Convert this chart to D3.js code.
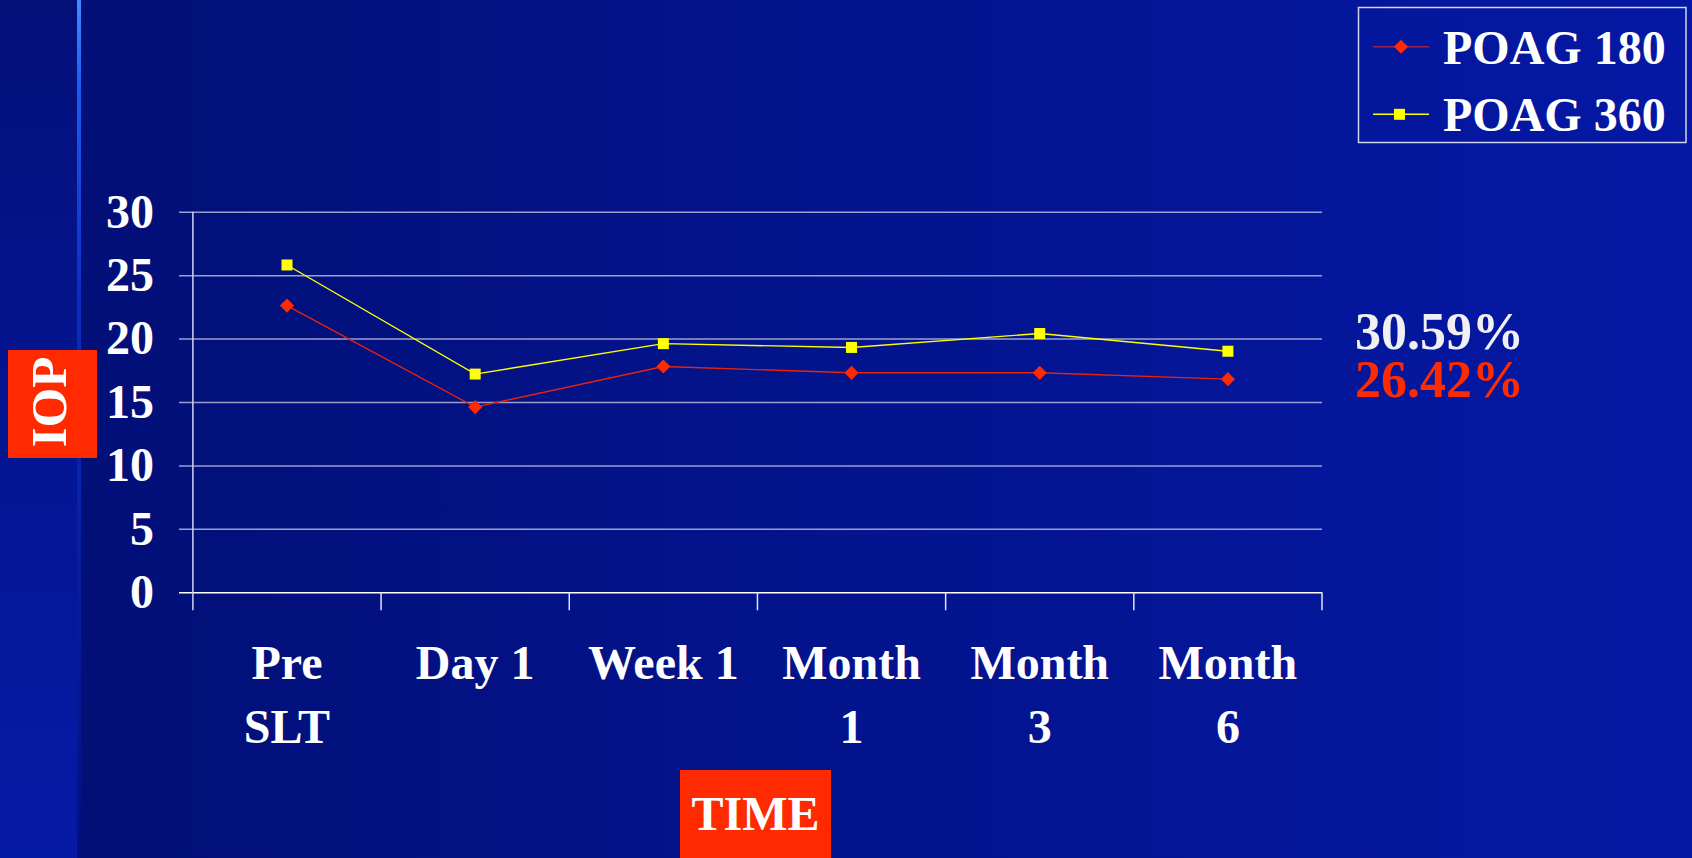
<!DOCTYPE html>
<html>
<head>
<meta charset="utf-8">
<script src="https://cdn.jsdelivr.net/npm/d3@7"></script>
<style>
  html, body { margin: 0; padding: 0; background: #03107a; overflow: hidden; }
  svg { display: block; }
  text { font-family: "Liberation Serif", "Times New Roman", serif; font-weight: bold; }
</style>
</head>
<body>
<div id="chart"></div>
<script>
// data
const categories = ["Pre SLT", "Day 1", "Week 1", "Month 1", "Month 3", "Month 6"];
const categoryLines = [["Pre", "SLT"], ["Day 1"], ["Week 1"], ["Month", "1"], ["Month", "3"], ["Month", "6"]];
const poag180 = [22.6, 14.6, 17.8, 17.3, 17.3, 16.8];
const poag360 = [25.8, 17.2, 19.6, 19.3, 20.4, 19.0];
const yTicks = [0, 5, 10, 15, 20, 25, 30];
const seriesNames = ["POAG 180", "POAG 360"];
const reductions = ["30.59%", "26.42%"];

const W = 1692, H = 858;
const red = "#ff2a00";

const svg = d3.select("#chart").append("svg")
  .attr("width", W)
  .attr("height", H);

// background
const defs = svg.append("defs");
const bgGrad = defs.append("linearGradient").attr("id", "bg").attr("x1", 0).attr("x2", 1).attr("y1", 0).attr("y2", 0);
bgGrad.append("stop").attr("offset", 0).attr("stop-color", "#020f75");
bgGrad.append("stop").attr("offset", 1).attr("stop-color", "#0518a4");
const stripGrad = defs.append("linearGradient").attr("id", "strip").attr("x1", 0).attr("x2", 0).attr("y1", 0).attr("y2", 1);
stripGrad.append("stop").attr("offset", 0).attr("stop-color", "#03107a");
stripGrad.append("stop").attr("offset", 1).attr("stop-color", "#061aa8");
const glowGrad = defs.append("linearGradient").attr("id", "glow").attr("x1", 0).attr("x2", 0).attr("y1", 0).attr("y2", 1);
glowGrad.append("stop").attr("offset", 0).attr("stop-color", "#3a90ff");
glowGrad.append("stop").attr("offset", 0.1).attr("stop-color", "#1c5cf0");
glowGrad.append("stop").attr("offset", 0.35).attr("stop-color", "#0a2cc0");
glowGrad.append("stop").attr("offset", 1).attr("stop-color", "#030f80");

svg.append("rect").attr("width", W).attr("height", H).attr("fill", "url(#bg)");
svg.append("rect").attr("width", 78).attr("height", H).attr("fill", "url(#strip)");
svg.append("rect").attr("x", 77).attr("width", 4).attr("height", H).attr("fill", "url(#glow)");

// layout
const plot = { left: 192.9, right: 1322, top: 211.7, bottom: 592.3 };

// scales
const x = d3.scaleBand()
  .domain(categories)
  .range([plot.left, plot.right]);
const y = d3.scaleLinear()
  .domain([0, 30])
  .range([plot.bottom, plot.top]);

// y axis: gridlines + labels
const gAxisY = svg.append("g")
  .attr("transform", `translate(179, 0)`)
  .call(d3.axisLeft(y).tickValues(yTicks).tickSizeInner(-(plot.right - 179)).tickSizeOuter(0).tickPadding(25));
gAxisY.select(".domain").remove();
gAxisY.selectAll(".tick line")
  .attr("stroke", "#ffffff")
  .attr("stroke-opacity", d => d === 0 ? 1 : 0.6)
  .attr("stroke-width", 1.5);
gAxisY.selectAll(".tick text")
  .attr("fill", "#ffffff")
  .attr("font-size", 48)
  .attr("font-family", "Liberation Serif, Times New Roman, serif")
  .attr("font-weight", "bold");

// vertical axis line
svg.append("line")
  .attr("x1", plot.left).attr("x2", plot.left)
  .attr("y1", plot.top).attr("y2", plot.bottom + 18)
  .attr("stroke", "#d0d4f0").attr("stroke-width", 1.5);

// x ticks at band boundaries
const boundaries = categories.map(c => x(c)).concat([x.range()[1]]).slice(1);
svg.append("g").selectAll("line")
  .data(boundaries)
  .join("line")
  .attr("x1", d => d).attr("x2", d => d)
  .attr("y1", plot.bottom).attr("y2", plot.bottom + 18)
  .attr("stroke", "#e0e4f8").attr("stroke-width", 1.5);

// x labels
const labels = svg.append("g").selectAll("text")
  .data(categories)
  .join("text")
  .attr("x", d => x(d) + x.bandwidth() / 2)
  .attr("y", 679)
  .attr("text-anchor", "middle")
  .attr("font-size", 48)
  .attr("fill", "#ffffff");
labels.selectAll("tspan")
  .data((d, i) => categoryLines[i])
  .join("tspan")
  .attr("x", function () { return this.parentNode.getAttribute("x"); })
  .attr("dy", (d, i) => i === 0 ? 0 : 64)
  .text(d => d);

// lines + markers
const series = [
  { name: seriesNames[0], values: poag180, line: "#e8220c", marker: red, shape: "diamond" },
  { name: seriesNames[1], values: poag360, line: "#ffff00", marker: "#ffff00", shape: "square" }
];
const lineGen = d3.line()
  .x((d, i) => x(categories[i]) + x.bandwidth() / 2)
  .y(d => y(d));
const symDiamond = d3.symbol().type(d3.symbolSquare).size(100);
const symSquare = d3.symbol().type(d3.symbolSquare).size(121);

const gMarks = svg.append("g");
series.forEach(s => {
  gMarks.append("path")
    .attr("d", lineGen(s.values))
    .attr("fill", "none")
    .attr("stroke", s.line)
    .attr("stroke-width", 1.4);
  gMarks.append("g").selectAll("path")
    .data(s.values)
    .join("path")
    .attr("transform", (d, i) => `translate(${x(categories[i]) + x.bandwidth() / 2}, ${y(d)})` + (s.shape === "diamond" ? " rotate(45)" : ""))
    .attr("d", s.shape === "diamond" ? symDiamond() : symSquare())
    .attr("fill", s.marker);
});

// legend
const gLegend = svg.append("g");
gLegend.append("rect")
  .attr("x", 1358.5).attr("y", 7.5)
  .attr("width", 327.5).attr("height", 135)
  .attr("fill", "none")
  .attr("stroke", "#d0d4ec")
  .attr("stroke-width", 1.5);
const legendRows = [46.7, 114.3];
series.forEach((s, i) => {
  const ly = legendRows[i];
  gLegend.append("line")
    .attr("x1", 1373).attr("x2", 1429)
    .attr("y1", ly).attr("y2", ly)
    .attr("stroke", i === 0 ? "#9a2450" : "#ffff00")
    .attr("stroke-width", 1.6);
  gLegend.append("path")
    .attr("transform", `translate(${i === 0 ? 1401 : 1399.5}, ${ly})` + (s.shape === "diamond" ? " rotate(45)" : ""))
    .attr("d", s.shape === "diamond" ? symDiamond() : symSquare())
    .attr("fill", s.marker);
  gLegend.append("text")
    .attr("x", 1443)
    .attr("y", ly + 17)
    .attr("font-size", 48)
    .attr("fill", "#ffffff")
    .text(s.name);
});

// reduction annotations
svg.append("g").selectAll("text")
  .data(reductions)
  .join("text")
  .attr("x", 1355)
  .attr("y", (d, i) => i === 0 ? 349 : 397)
  .attr("font-size", 52)
  .attr("fill", (d, i) => i === 0 ? "#f0f0f4" : red)
  .text(d => d);

// axis titles
svg.append("rect")
  .attr("x", 8).attr("y", 350)
  .attr("width", 89).attr("height", 108)
  .attr("fill", red);
svg.append("text")
  .attr("transform", "translate(66, 402) rotate(-90)")
  .attr("text-anchor", "middle")
  .attr("font-size", 51)
  .attr("fill", "#ffffff")
  .text("IOP");

svg.append("rect")
  .attr("x", 680).attr("y", 770)
  .attr("width", 151).attr("height", 88)
  .attr("fill", red);
svg.append("text")
  .attr("x", 755.5)
  .attr("y", 830)
  .attr("text-anchor", "middle")
  .attr("font-size", 48)
  .attr("fill", "#ffffff")
  .text("TIME");
</script>
</body>
</html>
